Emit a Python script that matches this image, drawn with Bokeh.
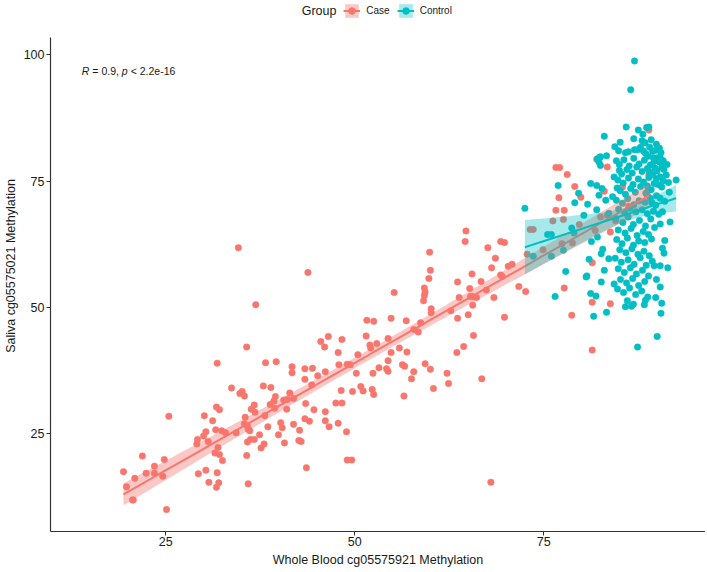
import numpy as np
from bokeh.plotting import figure
from bokeh.models import Range1d, FixedTicker, Legend, LegendItem, Label
from bokeh.embed import file_html
from bokeh.resources import INLINE

FONT = "Liberation Sans"
CASE_COL = "#F8766D"
CTRL_COL = "#00BFC4"

groups = ["Case", "Control"]
legend_title = "Group"
x_title = "Whole Blood cg05575921 Methylation"
y_title = "Saliva cg05575021 Methylation"
x_ticks = [25, 50, 75]
y_ticks = [25, 50, 75, 100]
stat_parts = ["R", "= 0.9,", "p", "< 2.2e-16"]

case_x = [19.4, 19.8, 20.6, 20.7, 20.9, 21.9, 22.4, 23.5, 23.5, 24.6, 24.8, 25.1, 25.4, 29.3, 30.3, 30.7,
          31.8, 32.0, 31.7, 29.1, 29.2, 30.1, 30.0, 30.3, 30.6, 31.2, 31.6, 31.7, 32.1, 31.8, 31.9, 31.5,
          32.1, 32.5, 32.4, 32.9, 33.7, 34.3, 34.8, 35.1, 35.4, 35.5, 35.4, 35.8, 36.1, 35.9, 35.7, 35.7,
          35.9, 35.8, 36.2, 36.7, 36.3, 36.7, 36.8, 37.4, 37.6, 38.0, 37.9, 38.1, 38.2, 38.5, 38.9, 38.8,
          39.3, 39.5, 39.4, 39.6, 39.9, 40.2, 40.4, 40.7, 40.6, 41.1, 41.0, 41.4, 41.7, 41.7, 41.9, 41.9,
          42.7, 42.6, 42.9, 43.4, 43.4, 43.5, 43.6, 43.4, 44.0, 44.4, 44.3, 44.6, 45.1, 45.5, 46.0, 46.1,
          46.1, 46.1, 46.5, 46.6,
          36.9, 43.8, 48.3, 47.8, 47.9, 49.0, 49.4, 48.2, 47.5, 48.3, 47.8, 48.9, 49.7, 50.2, 50.4, 50.8,
          51.1, 51.5, 51.6, 52.5, 52.0, 52.1, 52.3, 52.5, 52.4, 52.9, 53.2, 54.2, 54.4, 54.4, 54.4, 54.8,
          54.8, 55.2, 55.9, 56.3, 56.6, 56.5, 56.8, 56.9, 57.5, 57.8, 57.8, 58.4, 58.7, 59.3, 60.1, 60.1,
          59.1, 59.2, 59.3, 59.2, 59.8, 60.0, 59.9, 60.0, 60.4, 62.2, 62.4, 62.7, 63.5, 63.6, 63.6, 63.8,
          64.4, 65.0, 64.7, 64.6, 65.2, 65.3, 65.6, 65.6, 65.5, 65.7, 66.1, 66.7, 66.8, 67.4, 67.6, 68.1,
          68.6, 68.4, 69.3, 69.8, 69.3, 69.5, 69.8, 70.3, 70.8, 71.7,
          34.6, 68.0, 49.0, 49.6,
          72.6, 72.8, 73.2, 73.6, 74.9, 76.6, 77.1, 78.1, 77.0, 76.6, 77.7, 76.2, 77.6, 79.1, 79.9, 78.8,
          79.7, 77.4, 77.7, 78.7, 81.4, 81.4, 81.4, 81.8, 82.4, 82.0, 83.4, 83.0, 82.5, 83.4, 83.8, 83.8,
          84.5, 85.4, 86.2, 88.9, 88.9, 88.7]
case_y = [17.4, 14.4, 11.8, 11.8, 16.1, 20.5, 17.1, 18.5, 17.1, 16.5, 19.8, 9.9, 28.4, 17.0, 17.7, 15.3,
          17.2, 15.2, 14.3, 22.9, 23.8, 28.5, 24.5, 25.3, 23.4, 27.5, 25.7, 30.2, 29.7, 38.9, 22.2, 21.1,
          20.8, 19.6, 25.5, 25.1, 34.0, 25.1, 32.9, 33.3, 32.4, 28.2, 26.9, 26.4, 25.5, 25.8, 42.1, 20.6,
          15.0, 23.3, 23.8, 23.8, 29.8, 30.6, 29.2, 24.7, 22.1, 22.9, 34.4, 28.5, 39.0, 26.3, 34.1, 30.7,
          31.4, 32.3, 30.0, 39.2, 24.7, 27.1, 26.1, 23.1, 31.6, 31.7, 29.8, 33.0, 38.2, 37.0, 26.8, 31.9,
          25.6, 23.6, 23.4, 37.8, 35.7, 30.9, 18.2, 27.9, 27.4, 37.9, 34.6, 29.7, 36.4, 43.2, 42.1, 37.2,
          29.3, 27.5, 44.2, 26.3,
          50.5, 56.9, 43.6, 41.0, 38.6, 38.7, 38.6, 33.5, 31.0, 31.0, 27.0, 25.3, 33.3, 36.9, 40.6, 34.3,
          33.4, 44.3, 47.4, 47.2, 42.5, 41.9, 33.7, 32.7, 36.9, 42.8, 38.0, 37.8, 37.3, 39.4, 43.8, 47.8,
          41.0, 52.9, 41.9, 38.6, 38.3, 32.4, 47.3, 41.1, 35.8, 37.2, 45.6, 45.1, 46.9, 38.8, 49.7, 48.9,
          51.3, 52.3, 53.0, 53.8, 55.7, 57.3, 60.9, 37.7, 33.9, 36.9, 34.9, 49.3, 41.0, 47.8, 55.0, 51.9,
          42.2, 48.5, 65.1, 63.0, 53.7, 52.1, 52.1, 50.4, 56.6, 44.4, 51.9, 55.1, 35.8, 53.4, 61.8, 57.8,
          59.7, 51.9, 63.0, 62.8, 56.4, 56.1, 48.0, 58.1, 58.5, 54.1,
          61.8, 15.3, 19.7, 19.7,
          53.1, 60.5, 65.4, 65.4, 61.4, 77.7, 77.7, 76.3, 71.7, 69.2, 69.2, 67.1, 67.4, 73.9, 71.8, 62.7,
          66.4, 62.6, 53.8, 48.4, 58.8, 51.0, 41.5, 65.2, 79.7, 79.3, 77.8, 73.0, 67.9, 68.2, 64.9, 50.7,
          67.1, 73.8, 70.0, 76.3, 85.1, 72.2]

ctrl_x = [87.0, 86.5, 85.9, 87.5, 88.1, 88.6, 88.9, 83.0, 85.1, 86.9, 87.8, 89.0, 82.1, 82.5, 83.3, 82.3,
          82.5, 84.9, 86.2, 87.4, 88.2, 89.8, 90.4, 90.0, 90.3, 81.2, 82.0, 82.7, 82.3, 76.9, 79.6, 79.1,
          80.3, 72.5, 76.0, 75.5, 73.6, 76.0, 77.6, 78.7, 79.0, 77.9, 80.6, 80.7, 76.5, 81.2, 81.9, 81.6,
          82.6, 83.6, 82.1, 83.3, 84.3, 85.8, 86.6, 88.3, 87.4, 90.0, 90.5, 90.4, 90.4, 89.6, 91.0, 90.7,
          91.7, 92.5, 91.5, 90.4, 90.9,
          84.6, 85.0, 85.6, 86.3, 86.9, 87.6, 88.3, 89.1, 89.7, 85.0, 85.3, 86.0, 86.7, 87.3, 88.0, 88.7,
          89.4, 90.0, 84.3, 84.8, 85.5, 86.2, 86.8, 87.5, 88.2, 88.9, 89.6, 84.7, 85.1, 85.8, 86.5, 87.1,
          87.8, 88.5, 89.2, 89.9, 84.1, 84.6, 85.4, 86.1, 86.9, 87.6, 88.4, 89.1, 89.8, 84.9, 85.7, 86.4,
          87.2, 88.0, 88.7, 89.5, 90.2,
          84.55, 85.45, 86.15, 86.85, 87.65, 88.45, 89.15, 84.85, 85.75, 86.55, 87.35, 88.15, 88.85, 89.65,
          84.65, 85.35, 86.05, 86.85, 87.55, 88.35, 89.25, 85.05, 85.85, 86.65, 87.45, 88.25, 88.95, 84.45,
          85.25, 86.15, 86.95, 87.75, 88.55, 89.35, 84.85, 85.65, 86.45, 87.25, 88.05, 88.85, 85.15, 85.95,
          86.75, 87.55, 88.35, 84.75, 85.55, 86.35, 87.15, 87.95, 88.75, 86.05, 86.85, 88.45,
          84.4, 85.8, 87.0, 88.5, 89.4, 90.8, 91.2, 90.6, 91.0, 90.7, 90.4, 90.9, 91.4, 89.9, 89.8, 90.6,
          81.3, 82.8, 81.0, 83.0, 82.6, 80.8, 82.0, 83.2, 83.6,
          88.4, 89.2, 89.9, 90.3, 88.8, 89.5, 90.5, 89.0, 90.6, 91.3, 88.7, 89.9, 90.8, 91.6, 89.3, 90.4,
          88.8, 89.6, 90.1, 88.0]
ctrl_y = [98.8, 93.1, 85.7, 85.1, 84.3, 85.6, 85.7, 83.9, 82.7, 83.4, 81.7, 81.7, 79.4, 79.8, 80.0, 78.8,
          78.1, 81.0, 80.8, 81.2, 80.9, 81.1, 79.6, 79.6, 78.8, 74.5, 74.1, 73.5, 72.2, 74.1, 72.6, 70.7,
          68.2, 69.6, 64.4, 64.4, 60.1, 60.1, 61.3, 65.7, 64.7, 57.1, 56.0, 56.2, 52.1, 52.7, 52.2, 48.2,
          60.6, 59.6, 63.9, 49.0, 54.6, 50.1, 50.2, 50.5, 42.1, 44.2, 48.8, 54.0, 58.2, 58.2, 63.2, 61.7,
          66.9, 75.2, 74.7, 75.8, 77.3,
          79.0, 78.3, 79.2, 78.0, 79.5, 78.4, 79.1, 78.2, 77.6, 77.1, 76.4, 77.3, 76.6, 77.8, 76.9, 77.5,
          76.3, 77.0, 75.8, 75.2, 74.6, 75.6, 74.3, 75.4, 74.8, 75.7, 74.5, 73.6, 73.1, 72.4, 73.5, 72.8,
          73.9, 72.6, 73.3, 72.1, 71.9, 71.2, 70.6, 71.5, 70.3, 71.1, 70.8, 71.6, 70.2, 69.4, 68.7, 69.6,
          68.9, 69.3, 68.5, 69.0, 68.4,
          67.6, 66.8, 67.9, 66.4, 67.2, 66.1, 67.5, 65.3, 64.7, 65.6, 64.2, 65.0, 64.4, 65.8, 63.4, 62.6,
          63.7, 62.3, 63.1, 62.8, 63.5, 61.4, 60.8, 61.6, 60.5, 61.1, 60.2, 59.7, 58.9, 59.4, 58.5, 59.8,
          58.3, 59.1, 57.6, 56.9, 57.8, 56.6, 57.3, 56.2, 55.5, 54.8, 55.7, 54.3, 55.1, 53.6, 52.9, 53.8,
          52.5, 53.2, 52.0, 51.3, 50.6, 51.4,
          81.8, 80.6, 81.2, 80.4, 80.9, 79.0, 76.2, 73.8, 71.0, 68.9, 66.5, 60.7, 57.8, 55.5, 51.9, 50.8,
          63.0, 61.5, 59.5, 57.3, 55.0, 70.4, 69.3, 71.2, 68.6,
          82.6, 83.2, 82.3, 81.5, 79.9, 79.6, 80.6, 76.8, 77.8, 78.3, 74.0, 75.5, 75.0, 72.8, 70.7, 71.6,
          73.2, 78.9, 74.3, 83.0]


def lm_band(x, y, n=80):
    x = np.asarray(x, dtype=float)
    y = np.asarray(y, dtype=float)
    b, a = np.polyfit(x, y, 1)
    xs = np.linspace(x.min(), x.max(), n)
    fit = a + b * xs
    resid = y - (a + b * x)
    s = np.sqrt((resid ** 2).sum() / (len(x) - 2))
    sxx = ((x - x.mean()) ** 2).sum()
    se = s * np.sqrt(1.0 / len(x) + (xs - x.mean()) ** 2 / sxx)
    t = 1.97
    return xs, fit, fit - t * se, fit + t * se


# panel geometry: the frame reaches the top of the canvas so the legend (drawn
# inside the frame area above the data) is not clipped; the y axis line is
# limited to the ggplot panel extent with `bounds`.
PX_X = 7.56            # pixels per x unit
PX_Y = 5.046           # pixels per y unit
FRAME_W = 655
FRAME_H = 531
Y_LO, Y_HI = 5.55, 103.45
X_LO = 9.75

p = figure(frame_width=FRAME_W, frame_height=FRAME_H,
           x_range=Range1d(X_LO, X_LO + FRAME_W / PX_X),
           y_range=Range1d(Y_LO, Y_LO + FRAME_H / PX_Y),
           output_backend="svg", toolbar_location=None,
           min_border_left=0, min_border_right=0, min_border_top=0, min_border_bottom=0)
p.outline_line_color = None
p.xgrid.visible = False
p.ygrid.visible = False
p.background_fill_color = "white"
p.border_fill_color = "white"

cp = p.scatter(case_x, case_y, size=6.5, fill_color=CASE_COL, line_color=CASE_COL, line_width=0.5)
tp = p.scatter(ctrl_x, ctrl_y, size=6.5, fill_color=CTRL_COL, line_color=CTRL_COL, line_width=0.5)

xs, fit, lo, hi = lm_band(case_x, case_y)
cb = p.varea(x=xs, y1=lo, y2=hi, fill_color=CASE_COL, fill_alpha=0.4)
cl = p.line(xs, fit, line_color=CASE_COL, line_width=2)
xs2, fit2, lo2, hi2 = lm_band(ctrl_x, ctrl_y)
tb = p.varea(x=xs2, y1=lo2, y2=hi2, fill_color=CTRL_COL, fill_alpha=0.35)
tl = p.line(xs2, fit2, line_color=CTRL_COL, line_width=2)

dummy = p.scatter([], [], size=0, fill_alpha=0, line_alpha=0)

for ax, ticks in ((p.xaxis, x_ticks), (p.yaxis, y_ticks)):
    ax.ticker = FixedTicker(ticks=ticks)
    ax.minor_tick_line_color = None
    ax.major_tick_in = 0
    ax.major_tick_out = 4
    ax.major_tick_line_color = "#333333"
    ax.axis_line_color = "#333333"
    ax.axis_line_width = 1.2
    ax.major_label_text_font = FONT
    ax.major_label_text_font_size = "12.5px"
    ax.major_label_text_color = "#1a1a1a"
    ax.axis_label_text_font = FONT
    ax.axis_label_text_font_size = "12.5px"
    ax.axis_label_text_font_style = "normal"
    ax.axis_label_text_color = "#1a1a1a"
    ax.major_label_standoff = 2
    ax.axis_label_standoff = 3
p.xaxis.axis_label = x_title
p.yaxis.axis_label = y_title
p.yaxis.bounds = (Y_LO, Y_HI)
p.xaxis.major_label_standoff = 1
p.xaxis.axis_label_standoff = 4

common = dict(orientation="horizontal", padding=0, margin=0, border_line_alpha=0,
              background_fill_alpha=0, label_text_font=FONT, label_text_color="#1a1a1a")

FRAME_LEFT = 50
LEG_VY = FRAME_H - 19
legend = Legend(items=[LegendItem(label=groups[0], renderers=[cb, cl, cp]),
                       LegendItem(label=groups[1], renderers=[tb, tl, tp])],
                location=(343.3 - FRAME_LEFT, LEG_VY), spacing=7, label_standoff=6,
                glyph_width=17, glyph_height=17, label_height=17, label_text_font_size="10px", **common)
p.add_layout(legend)

title_leg = Legend(items=[LegendItem(label=legend_title, renderers=[dummy])],
                   location=(301.7 - FRAME_LEFT, LEG_VY), glyph_width=0, glyph_height=17, label_height=17,
                   label_standoff=0, label_text_font_size="12.5px", **common)
p.add_layout(title_leg)

offsets = [0, 10.5, 40.0, 48.8]
styles = ["italic", "normal", "italic", "normal"]
for t, off, st in zip(stat_parts, offsets, styles):
    p.add_layout(Label(x=13.9, y=96.8, x_offset=off, text=t, text_font=FONT, text_font_size="10.5px",
                       text_font_style=st, text_color="#1a1a1a", text_baseline="middle",
                       text_align="left"))

open("out.html", "w").write(file_html(p, INLINE))
